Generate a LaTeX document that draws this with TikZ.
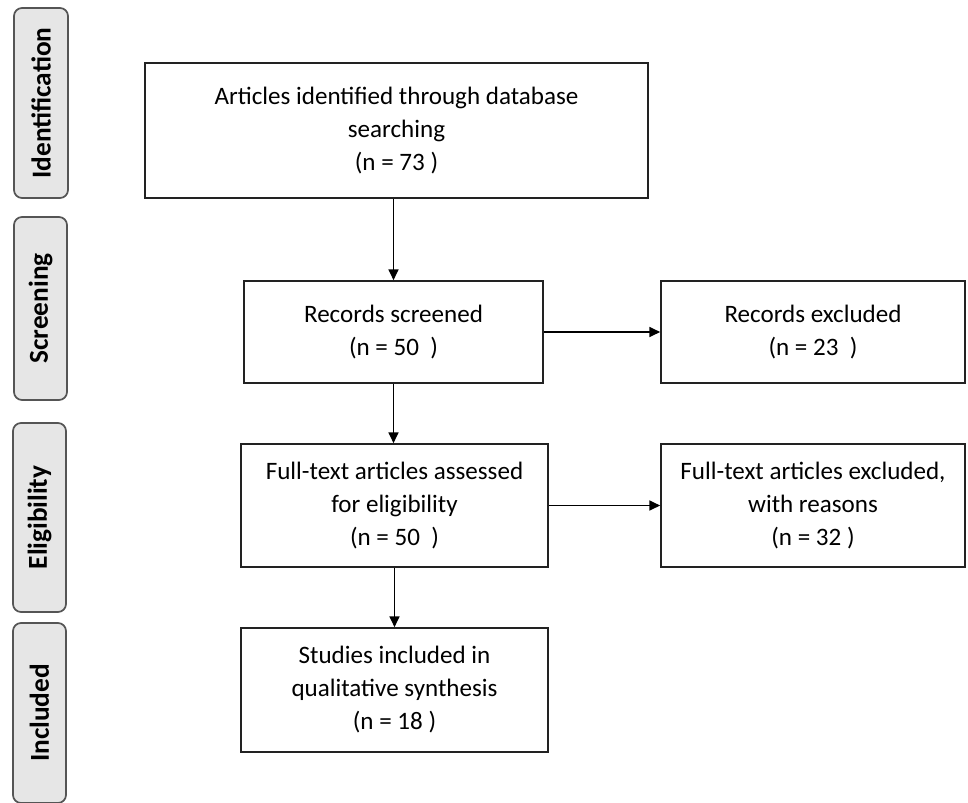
\documentclass[tikz,border=0pt]{standalone}
\usepackage{fontspec}
\setmainfont{Carlito}
\usetikzlibrary{arrows.meta}
\definecolor{sidefill}{HTML}{E6E6E6}
\definecolor{sidedraw}{HTML}{555555}
\definecolor{boxdraw}{HTML}{222222}
\begin{document}
\begin{tikzpicture}[x=0.75pt,y=-0.75pt,
  flowbox/.style={draw=boxdraw,line width=1.3pt,fill=white,align=center,inner sep=0pt,
    font=\fontsize{18.8pt}{24.75pt}\selectfont},
  sidebox/.style={draw=sidedraw,fill=sidefill,line width=1.3pt,rounded corners=6pt,
    inner sep=0pt,rotate=90,font=\bfseries\fontsize{20.5pt}{24pt}\selectfont},
  arr/.style={draw=black,line width=1pt,-{Triangle[length=8pt,width=7.5pt]}}]
\useasboundingbox (0,0) rectangle (968,803);
% side phase labels
\node[sidebox,minimum width=190*0.75pt,minimum height=54*0.75pt] (sid) at (41,103) {Identification};
\node[sidebox,minimum width=183*0.75pt,minimum height=53*0.75pt] (sscr) at (40.5,308.5) {Screening};
\node[sidebox,minimum width=189*0.75pt,minimum height=53*0.75pt] (selig) at (39.5,517.5) {Eligibility};
\node[sidebox,minimum width=180*0.75pt,minimum height=53*0.75pt] (sinc) at (39.5,713) {Included};
% flow boxes
\node[flowbox,minimum width=503*0.75pt,minimum height=135*0.75pt] (ident) at (396.5,130.5)
  {Articles identified through database\\searching\\(n = 73 )};
\node[flowbox,minimum width=299*0.75pt,minimum height=102*0.75pt] (screen) at (393.5,332)
  {Records screened\\(n = 50~~)};
\node[flowbox,minimum width=304*0.75pt,minimum height=102*0.75pt] (excl) at (813,332)
  {Records excluded\\(n = 23~~)};
\node[flowbox,minimum width=307*0.75pt,minimum height=123*0.75pt] (full) at (394.5,505.5)
  {Full-text articles assessed\\for eligibility\\(n = 50~~)};
\node[flowbox,minimum width=304*0.75pt,minimum height=123*0.75pt] (fexcl) at (813,505.5)
  {Full-text articles excluded,\\with reasons\\(n = 32 )};
\node[flowbox,minimum width=307*0.75pt,minimum height=124*0.75pt] (incl) at (394.5,690)
  {Studies included in\\qualitative synthesis\\(n = 18 )};
% connectors
\draw[arr] (screen.north |- ident.south) -- (screen.north);
\draw[arr] (screen.east) -- (excl.west);
\draw[arr] (screen.south) -- (full.north -| screen.south);
\draw[arr] (full.east) -- (fexcl.west);
\draw[arr] (full.south) -- (incl.north);
\end{tikzpicture}
\end{document}
